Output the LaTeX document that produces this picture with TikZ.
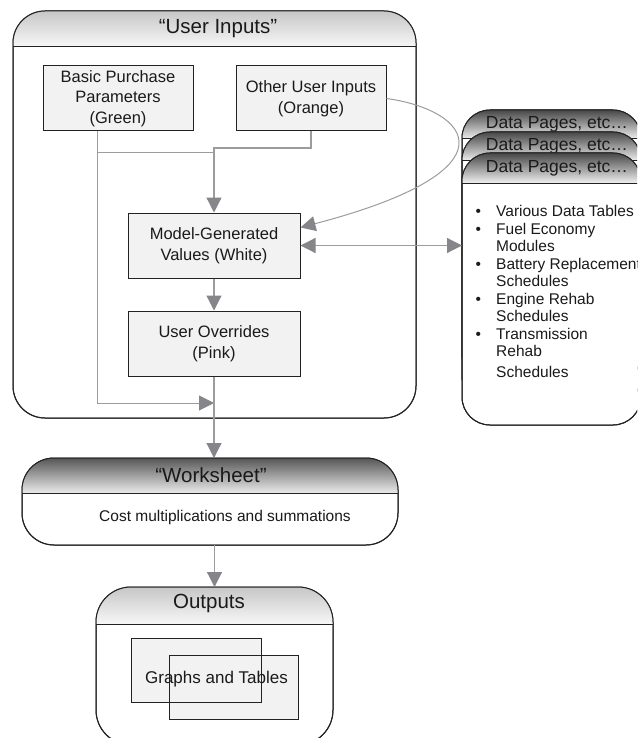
\documentclass[tikz,border=0pt]{standalone}
\usepackage{fontspec}
\setmainfont{Liberation Sans}
\usetikzlibrary{arrows.meta,calc}
\definecolor{linegray}{HTML}{9C9C9C}
\definecolor{tipgray}{HTML}{85858A}
\definecolor{boxfill}{HTML}{F2F2F2}
\definecolor{edge}{HTML}{222222}
\definecolor{txt}{HTML}{1A1A1A}
\newcommand\dpbul{\makebox[20.5pt][l]{\textbullet}}
\newcommand\dpind{\hspace*{20.5pt}}
% #1 node, #2 radius, #3 header height, #4 top colour, #5 bottom colour
\newcommand\hdrshade[5]{%
  \begin{scope}
    \clip[rounded corners=#2] (#1.north west) rectangle (#1.south east);
    \shade[top color=#4, bottom color=#5] (#1.north west) rectangle ([yshift=-#3]#1.north east);
  \end{scope}
  \draw[edge, line width=1pt] ([yshift=-#3]#1.north west) -- ([yshift=-#3]#1.north east);
  \draw[edge, line width=1pt, rounded corners=#2] (#1.north west) rectangle (#1.south east);
}
\begin{document}
\begin{tikzpicture}[x=1pt,y=-1pt,
  every node/.style={text=txt},
  inbox/.style={draw=edge, line width=1pt, fill=boxfill, minimum height=65pt, align=center, inner sep=0pt, font=\fontsize{16.5}{20.5}\selectfont},
  hdrbox/.style={draw=edge, line width=1pt, fill=white, rounded corners=#1, inner sep=0pt, outer sep=0pt},
  hdrtext/.style={font=\fontsize{20.5}{24}\selectfont},
  dptext/.style={font=\fontsize{17.5}{20}\selectfont},
  link/.style={draw=linegray, line width=1.2pt},
  thinlink/.style={draw=linegray, line width=1pt},
  tip/.style={-{Triangle[length=15pt,width=15pt,color=tipgray]}},
  bothtips/.style={{Triangle[length=15pt,width=15pt,color=tipgray]}-{Triangle[length=15pt,width=15pt,color=tipgray]}},
  grbox/.style={draw=edge, line width=1pt, fill=boxfill, minimum height=64pt, inner sep=0pt, outer sep=0pt},
]
\useasboundingbox (0,0) rectangle (637,738);
\clip (0,0) rectangle (637,738);

% User Inputs container
\node[hdrbox=32pt, minimum width=403pt, minimum height=407pt] (ui) at (214.5,214.5) {};
\hdrshade{ui}{32pt}{36pt}{black!22}{black!3}
\node[hdrtext] (uih) at (218,29) {“User Inputs”};

\node[inbox, minimum width=150pt] (basic) at (118,98.5) {Basic Purchase\\Parameters\\(Green)};
\node[inbox, minimum width=150pt] (other) at (311,98.5) {Other User Inputs\\(Orange)};
\node[inbox, minimum width=172pt] (model) at (214,245.5) {Model-Generated\\Values (White)};
\node[inbox, minimum width=172pt] (ovr) at (214,343.5) {User Overrides\\(Pink)};

% curve from Other User Inputs (behind the data pages)
\draw[thinlink, tip] (other.east) .. controls (470,110) and (520,170) .. ($(model.north east)+(0,15)$);

% Data pages stack
\node[hdrbox=28pt, minimum width=179pt, minimum height=272pt] (dp1) at (551.5,246) {};
\hdrshade{dp1}{28pt}{29pt}{black!72}{black!6}
\node[dptext] (dp1h) at (557,124.5) {Data Pages, etc…};
\node[hdrbox=28pt, minimum width=179pt, minimum height=272pt] (dp2) at (551.5,268) {};
\hdrshade{dp2}{28pt}{29pt}{black!72}{black!6}
\node[dptext] (dp2h) at (557,146.5) {Data Pages, etc…};
\node[hdrbox=28pt, minimum width=179pt, minimum height=272pt] (dp3) at (551.5,289) {};
\hdrshade{dp3}{28pt}{30pt}{black!72}{black!6}
\node[dptext] (dp3h) at (557,168) {Data Pages, etc…};
\node[anchor=north west, inner sep=0pt, align=left, font=\fontsize{15.5}{17.5}\selectfont] (dtxt) at (475.5,205.5)
  {\dpbul Various Data Tables\\\dpbul Fuel Economy\\\dpind Modules\\\dpbul Battery Replacement\\\dpind Schedules\\\dpbul Engine Rehab\\\dpind Schedules\\\dpbul Transmission\\\dpind Rehab\\[3pt]\dpind Schedules};

% Worksheet
\node[hdrbox=32pt, minimum width=376pt, minimum height=87pt] (ws) at (210,501.5) {};
\hdrshade{ws}{32pt}{35pt}{black!66}{black!8}
\node[hdrtext] (wsh) at (211,475.5) {“Worksheet”};
\node[font=\fontsize{15.5}{18}\selectfont] (wst) at (225,517) {Cost multiplications and summations};

% Outputs
\node[hdrbox=35pt, minimum width=237pt, minimum height=158pt] (out) at (214.5,666) {};
\hdrshade{out}{35pt}{37pt}{black!22}{black!3}
\node[hdrtext] (outh) at (209,603) {Outputs};
\node[grbox, minimum width=130pt] (g1) at (196,670) {};
\node[grbox, minimum width=129pt] (g2) at (233.5,687) {};
\draw[edge, line width=1pt] (g1.north west) rectangle (g1.south east);
\node[font=\fontsize{17}{20}\selectfont] (gt) at (216.5,679) {Graphs and Tables};

% connectors
\coordinate (bx) at (97,403);
\coordinate (bj) at (97,153);
\coordinate (oj) at (214,148);
\draw[thinlink, tip] (basic.south -| bx) -- (bx) -- (bx -| ovr.south);
\draw[thinlink] (bj) -- (bj -| model.north);
\draw[link, tip] (other.south) |- (oj) -- (model.north);
\draw[link, tip] (model.south) -- (ovr.north);
\draw[link, tip] (ovr.south) -- (ovr.south |- ws.north);
\draw[link, tip] (ws.south -| out.north) -- (out.north);
\draw[link, bothtips] (model.east) -- (model.east -| dp3.west);
\end{tikzpicture}
\end{document}
